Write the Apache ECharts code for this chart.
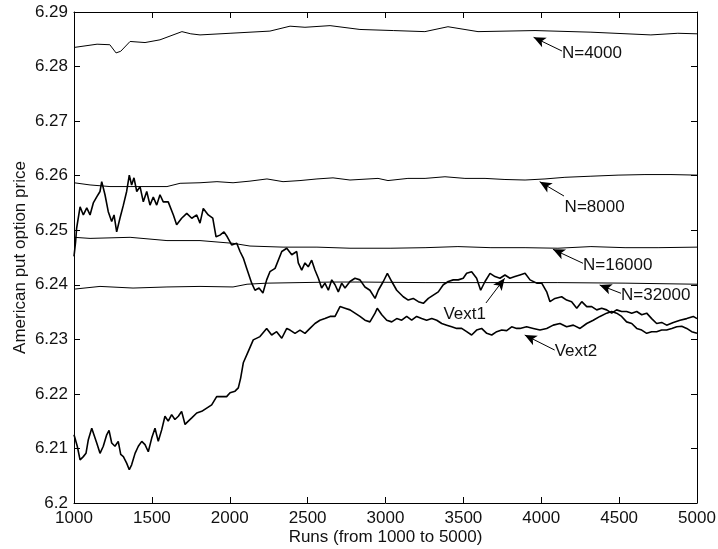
<!DOCTYPE html>
<html>
<head>
<meta charset="utf-8">
<script src="https://cdn.jsdelivr.net/npm/echarts@6/dist/echarts.min.js"></script>
<style>
  html, body { margin: 0; padding: 0; background: #fff; }
  #chart { width: 718px; height: 549px; }
</style>
</head>
<body>
<div id="chart"></div>
<script>
// Running price estimates of the American put versus number of runs.

const vext1Runs = [1000,1010,1017,1039,1060,1082,1103,1124,1146,1167,1178,1199,1220,1242,1257,1274,1295,1317,1338,1355,1370,1385,1403,1424,1445,1467,1488,1509,1531,1552,1573,1605,1638,1659,1691,1724,1756,1788,1809,1830,1862,1891,1912,1937,1963,1984,2012,2045,2066,2087,2109,2141,2162,2188,2213,2237,2258,2291,2334,2366,2398,2430,2440,2462,2483,2504,2526,2547,2569,2590,2611,2633,2655,2676,2697,2719,2740,2772,2804,2836,2868,2900,2933,2954,2986,3012,3040,3072,3114,3146,3178,3211,3243,3275,3307,3339,3371,3403,3435,3467,3499,3521,3553,3585,3611,3639,3671,3703,3735,3767,3799,3831,3863,3896,3928,3971,4003,4035,4056,4088,4131,4163,4195,4228,4260,4292,4324,4356,4388,4420,4452,4484,4516,4548,4581,4613,4645,4677,4709,4741,4773,4805,4848,4891,4934,4976,5000];
const vext1Vals = [6.2452,6.2478,6.2504,6.2543,6.2528,6.2541,6.2528,6.2550,6.2561,6.2571,6.2589,6.2565,6.2534,6.2516,6.2528,6.2497,6.2522,6.2546,6.2571,6.2601,6.2583,6.2596,6.2571,6.2580,6.2552,6.2571,6.2546,6.2561,6.2546,6.2565,6.2552,6.2552,6.2528,6.2510,6.2522,6.2531,6.2522,6.2528,6.2513,6.2540,6.2528,6.2522,6.2488,6.2491,6.2497,6.2488,6.2473,6.2476,6.2461,6.2449,6.2430,6.2403,6.2390,6.2394,6.2385,6.2409,6.2424,6.2430,6.2461,6.2467,6.2455,6.2461,6.2440,6.2427,6.2440,6.2433,6.2445,6.2427,6.2412,6.2394,6.2403,6.2390,6.2409,6.2400,6.2387,6.2403,6.2394,6.2406,6.2412,6.2409,6.2396,6.2390,6.2375,6.2390,6.2406,6.2421,6.2406,6.2390,6.2378,6.2372,6.2375,6.2369,6.2366,6.2375,6.2381,6.2387,6.2400,6.2406,6.2409,6.2409,6.2412,6.2421,6.2424,6.2412,6.2390,6.2406,6.2421,6.2415,6.2412,6.2418,6.2412,6.2415,6.2418,6.2421,6.2409,6.2403,6.2403,6.2387,6.2369,6.2375,6.2378,6.2372,6.2369,6.2357,6.2369,6.2360,6.2360,6.2354,6.2357,6.2354,6.2348,6.2354,6.2351,6.2351,6.2348,6.2351,6.2345,6.2348,6.2338,6.2329,6.2331,6.2326,6.2331,6.2335,6.2338,6.2342,6.2338];

const vext2Runs = [1000,1006,1021,1039,1060,1077,1092,1114,1128,1146,1167,1188,1210,1225,1242,1263,1284,1300,1317,1338,1355,1370,1392,1413,1435,1456,1477,1499,1520,1541,1563,1584,1605,1627,1648,1670,1691,1713,1734,1756,1788,1820,1852,1884,1916,1948,1980,2002,2034,2055,2070,2087,2119,2151,2194,2237,2269,2301,2334,2366,2387,2419,2451,2483,2515,2547,2579,2611,2644,2676,2708,2740,2772,2804,2836,2868,2900,2933,2947,2976,3008,3040,3072,3104,3136,3168,3200,3232,3264,3297,3329,3361,3393,3425,3457,3489,3521,3553,3585,3617,3650,3682,3714,3746,3778,3810,3842,3863,3906,3949,3992,4035,4077,4120,4163,4206,4249,4292,4334,4377,4420,4452,4484,4516,4548,4581,4613,4645,4677,4709,4741,4773,4805,4838,4870,4902,4934,4966,5000];
const vext2Vals = [6.2125,6.2119,6.2104,6.2079,6.2085,6.2091,6.2116,6.2137,6.2125,6.2110,6.2091,6.2104,6.2125,6.2133,6.2110,6.2104,6.2113,6.2089,6.2085,6.2073,6.2061,6.2070,6.2091,6.2104,6.2113,6.2107,6.2094,6.2119,6.2137,6.2113,6.2134,6.2159,6.2150,6.2162,6.2153,6.2159,6.2168,6.2144,6.2150,6.2156,6.2165,6.2168,6.2174,6.2180,6.2195,6.2195,6.2195,6.2202,6.2205,6.2211,6.2229,6.2257,6.2278,6.2299,6.2305,6.2320,6.2308,6.2314,6.2302,6.2320,6.2317,6.2311,6.2317,6.2311,6.2320,6.2329,6.2335,6.2338,6.2342,6.2342,6.2360,6.2357,6.2354,6.2348,6.2342,6.2335,6.2332,6.2348,6.2357,6.2345,6.2335,6.2332,6.2338,6.2335,6.2342,6.2335,6.2342,6.2338,6.2335,6.2338,6.2335,6.2329,6.2326,6.2323,6.2320,6.2320,6.2314,6.2308,6.2317,6.2320,6.2311,6.2308,6.2314,6.2317,6.2316,6.2323,6.2320,6.2320,6.2323,6.2320,6.2317,6.2320,6.2326,6.2329,6.2323,6.2326,6.2320,6.2329,6.2335,6.2342,6.2348,6.2351,6.2348,6.2342,6.2332,6.2329,6.2320,6.2317,6.2311,6.2314,6.2314,6.2317,6.2317,6.2320,6.2323,6.2324,6.2320,6.2314,6.2311];

const n4000Runs = [1000,1148,1230,1270,1300,1360,1456,1552,1693,1750,1809,2002,2258,2387,2483,2644,2836,3050,3253,3401,3594,3960,4319,4704,4877,5000];
const n4000Vals = [6.2835,6.2841,6.2840,6.2825,6.2828,6.2846,6.2844,6.2849,6.2864,6.2860,6.2858,6.2861,6.2865,6.2874,6.2872,6.2875,6.2868,6.2866,6.2864,6.2873,6.2864,6.2866,6.2863,6.2858,6.2861,6.2860];

const n8000Runs = [1000,1103,1231,1360,1488,1597,1681,1809,1918,2021,2130,2239,2342,2451,2560,2663,2772,2952,3016,3144,3254,3382,3510,3639,3767,3896,4024,4152,4319,4493,4666,4833,5000];
const n8000Vals = [6.2587,6.2583,6.2580,6.2580,6.2580,6.2580,6.2586,6.2587,6.2589,6.2587,6.2590,6.2594,6.2589,6.2591,6.2594,6.2596,6.2592,6.2595,6.2591,6.2595,6.2595,6.2598,6.2595,6.2595,6.2593,6.2592,6.2594,6.2597,6.2599,6.2601,6.2602,6.2602,6.2601];

const n16000Runs = [1000,1103,1360,1597,1809,2021,2130,2342,2560,2772,3035,3254,3465,3677,3896,4107,4319,4538,4750,5000];
const n16000Vals = [6.2487,6.2485,6.2487,6.2481,6.2481,6.2476,6.2471,6.2469,6.2469,6.2467,6.2467,6.2468,6.2470,6.2468,6.2468,6.2467,6.2470,6.2468,6.2468,6.2469];

const n32000Runs = [1000,1167,1379,1597,1809,2021,2111,2239,2451,2663,2836,3254,3677,4107,4538,5000];
const n32000Vals = [6.2392,6.2397,6.2394,6.2396,6.2397,6.2396,6.2401,6.2403,6.2404,6.2405,6.2405,6.2404,6.2404,6.2404,6.2403,6.2401];

// Callout labels and their arrows (data coordinates)
const noteLabels   = ['N=4000', 'N=8000', 'N=16000', 'N=32000', 'Vext1', 'Vext2'];
const noteTipRuns  = [3951, 3990, 4075, 4375, 3765, 3894];
const noteTipVals  = [6.28536, 6.25889, 6.24650, 6.23996, 6.24119, 6.23079];
const noteTailRuns = [4133, 4146, 4268, 4512, 3645, 4086];
const noteTailVals = [6.28285, 6.25627, 6.24394, 6.23844, 6.23666, 6.22804];
const noteTextRuns = [4133, 4150, 4268, 4512, 3645, 4086];
const noteTextVals = [6.28239, 6.25426, 6.24362, 6.23813, 6.23464, 6.22786];
const noteSide     = ['right', 'right', 'right', 'right', 'left', 'right'];

const xMin = 1000, xMax = 5000, xStep = 500;
const yMin = 6.2, yMax = 6.29, yStep = 0.01;

const FONT = 'Liberation Sans, Arial, Helvetica, sans-serif';
const FS = 17;
const INK = '#111';

function pairs(xs, ys) { return xs.map((x, i) => [x, ys[i]]); }

function curve(name, xs, ys, width) {
  return {
    name: name, type: 'line', data: pairs(xs, ys),
    showSymbol: false, symbol: 'none', silent: true,
    lineStyle: { color: '#000', width: width },
    z: 3
  };
}

const arrowLines = noteLabels.map((t, i) => [
  { coord: [noteTailRuns[i], noteTailVals[i]], symbol: 'none' },
  { coord: [noteTipRuns[i], noteTipVals[i]], symbol: 'arrow', symbolSize: [8, 12] }
]);

const notes = noteLabels.map((t, i) => ({
  value: [noteTextRuns[i], noteTextVals[i]],
  name: t,
  label: { position: noteSide[i], distance: 0 }
}));

const tickAxis = (extra) => Object.assign({
  type: 'value',
  axisLine: { show: true, onZero: false, lineStyle: { color: '#000', width: 1 } },
  axisTick: { show: true, inside: true, length: 6, lineStyle: { color: '#000', width: 1 } },
  splitLine: { show: false },
  minorTick: { show: false }
}, extra);

const chart = echarts.init(document.getElementById('chart'), null, { renderer: 'canvas' });
chart.setOption({
  animation: false,
  backgroundColor: '#fff',
  textStyle: { fontFamily: FONT },
  grid: { left: 74, right: 21, top: 12, bottom: 46, containLabel: false, outerBoundsMode: 'none' },
  xAxis: [
    tickAxis({
      position: 'bottom', min: xMin, max: xMax, interval: xStep,
      name: 'Runs (from 1000 to 5000)', nameLocation: 'middle', nameGap: 26,
      nameMoveOverlap: false,
      nameTextStyle: { color: INK, fontSize: FS, fontFamily: FONT },
      axisLabel: {
        color: INK, fontSize: FS, fontFamily: FONT, margin: 7,
        formatter: v => String(Math.round(v))
      }
    }),
    tickAxis({
      position: 'top', min: xMin, max: xMax, interval: xStep,
      axisLabel: { show: false }
    })
  ],
  yAxis: [
    tickAxis({
      position: 'left', min: yMin, max: yMax, interval: yStep,
      name: 'American put option price', nameLocation: 'middle', nameGap: 45,
      nameMoveOverlap: false,
      nameTextStyle: { color: INK, fontSize: FS, fontFamily: FONT },
      axisLabel: {
        color: INK, fontSize: FS, fontFamily: FONT, margin: 6,
        formatter: v => String(parseFloat(v.toFixed(2)))
      }
    }),
    tickAxis({
      position: 'right', min: yMin, max: yMax, interval: yStep,
      axisLabel: { show: false }
    })
  ],
  series: [
    curve('N=4000', n4000Runs, n4000Vals, 1),
    curve('N=8000', n8000Runs, n8000Vals, 1),
    curve('N=16000', n16000Runs, n16000Vals, 1),
    curve('N=32000', n32000Runs, n32000Vals, 1),
    curve('Vext2', vext2Runs, vext2Vals, 1.6),
    curve('Vext1', vext1Runs, vext1Vals, 1.6),
    {
      name: 'notes', type: 'scatter', data: notes,
      symbolSize: 0, silent: true, z: 5,
      itemStyle: { opacity: 1 },
      label: {
        show: true, formatter: p => p.name, opacity: 1,
        color: INK, fontSize: FS, fontFamily: FONT,
        textBorderWidth: 0, textBorderColor: 'transparent'
      },
      markLine: {
        silent: true, animation: false,
        lineStyle: { color: '#000', width: 1, type: 'solid', opacity: 1 },
        itemStyle: { color: '#000', opacity: 1 },
        label: { show: false },
        emphasis: { disabled: true },
        data: arrowLines
      }
    }
  ]
});
</script>
</body>
</html>
